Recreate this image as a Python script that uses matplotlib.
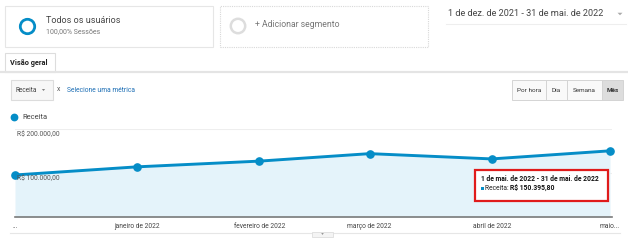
import numpy as np
import matplotlib
matplotlib.use("Agg")
import matplotlib.pyplot as plt
from matplotlib.patches import Rectangle, Polygon, Ellipse

plt.rcParams['font.family'] = ['Roboto', 'DejaVu Sans']

# ---- data ----
months = ["2021-12-01", "2022-01-01", "2022-02-01", "2022-03-01", "2022-04-01", "2022-05-01"]
receita = [95500, 114000, 127000, 144000, 132000, 150395.80]
tick_labels = ["...", "janeiro de 2022", "fevereiro de 2022", "março de 2022", "abril de 2022", "maio..."]
y_ticks = [100000, 200000]
y_tick_labels = ["R$ 100.000,00", "R$ 200.000,00"]
date_range = "1 de dez. de 2021 - 31 de mai. de 2022"
tooltip_title = "1 de mai. de 2022 - 31 de mai. de 2022"
tooltip_value = "R$ 150.395,80"

W, H = 628, 240
fig = plt.figure(figsize=(W / 100, H / 100), dpi=100)
fig.patch.set_facecolor("white")

def fx(x):
    return x / W

def fy(y):
    return 1 - y / H

BLUE = "#058dc7"
TXT = "#333333"
GREY = "#e0e0e0"

def rect(x0, y0, x1, y1, fc="white", ec=GREY, lw=0.8, ls="-", z=1):
    r = Rectangle((fx(x0), fy(y1)), fx(x1) - fx(x0), fy(y0) - fy(y1),
                  transform=fig.transFigure, facecolor=fc, edgecolor=ec, lw=lw, ls=ls, zorder=z)
    fig.add_artist(r)
    return r

def hline(y, x0, x1, color=GREY, lw=1.0):
    fig.add_artist(plt.Line2D([fx(x0), fx(x1)], [fy(y), fy(y)], transform=fig.transFigure,
                              color=color, lw=lw))

def txt(x, y, s, size=6, color=TXT, weight="normal", ha="left", va="center"):
    return fig.text(fx(x), fy(y), s, fontsize=size, color=color, fontweight=weight, ha=ha, va=va)

def ring(x, y, r, color, lw):
    e = Ellipse((fx(x), fy(y)), 2 * r / W, 2 * r / H, transform=fig.transFigure,
                facecolor="none", edgecolor=color, lw=lw)
    fig.add_artist(e)

def tri(x, y, s, color):
    p = Polygon([(fx(x - s), fy(y - s / 2)), (fx(x + s), fy(y - s / 2)), (fx(x), fy(y + s / 2))],
                closed=True, transform=fig.transFigure, facecolor=color, edgecolor="none", zorder=5)
    fig.add_artist(p)

# ---- header: segments ----
rect(5, 6, 213, 47, ec="#e6e6e6", lw=0.8)
ring(27.5, 26.5, 7.2, BLUE, 2.0)
txt(46, 20.5, "Todos os usuários", size=6.5, color="#444444")
txt(46, 32, "100,00% Sessões", size=5.0, color="#777777")

rect(220, 6, 428, 47, ec="#d8d8d8", lw=0.8, ls=(0, (1, 1)))
ring(238, 26, 7.2, "#dddddd", 1.8)
txt(255, 24.5, "+ Adicionar segmento", size=6.2, color="#777777")

txt(448, 14, date_range, size=6.6, color="#444444")
tri(620, 14, 2.5, "#aaaaaa")
hline(23.5, 446, 626, color="#eeeeee", lw=0.8)

# ---- tab ----
hline(72.5, 0, 628, color="#e4e4e4", lw=1.6)
rect(5, 53, 55, 72, ec="#dddddd", lw=0.8)
txt(10, 63, "Visão geral", size=5.3, color="#222222", weight="bold")

# ---- metric selector ----
rect(11, 80, 53, 100, fc="#f7f7f7", ec="#dcdcdc", lw=0.8)
txt(15, 90, "Receita", size=4.7, color="#444444")
tri(43.5, 90, 1.6, "#666666")
txt(56.5, 89.5, "x", size=4.9, color="#555555")
txt(67, 90, "Selecione uma métrica", size=4.9, color="#1e6fb5")

# ---- period buttons ----
btns = [("Por hora", 512, 546), ("Dia", 546, 567), ("Semana", 567, 602), ("Mês", 602, 623)]
for lab, a, b in btns:
    sel = lab == "Mês"
    rect(a, 80, b, 100, fc="#dddddd" if sel else "#f9f9f9", ec="#d4d4d4", lw=0.7)
    t = txt((a + b) / 2, 90, lab, size=4.6, color="#333333", ha="center",
            weight="bold" if sel else "normal")
    t.set_zorder(6)

# ---- legend ----
fig.add_artist(plt.Line2D([fx(14)], [fy(117)], marker="o", ms=4.6, color=BLUE, transform=fig.transFigure))
txt(22, 117, "Receita", size=5.4, color="#444444")

# ---- chart ----
ax = fig.add_axes([fx(15), fy(217), fx(612) - fx(15), fy(129) - fy(217)])
d0 = np.datetime64(months[0])
xs = np.array([(np.datetime64(m) - d0).astype(int) for m in months], dtype=float)
ax.set_xlim(0, 151.5)
ax.set_ylim(0, 200000)
for s in ax.spines.values():
    s.set_visible(False)
ax.set_yticks([])
for v in y_ticks:
    ax.axhline(v, color="#eeeeee", lw=0.8, zorder=0)
ax.fill_between(xs, receita, 0, color="#e4f3fa", lw=0, zorder=1)
ax.plot(xs, receita, color=BLUE, lw=2.1, marker="o", ms=5.2, clip_on=False, zorder=3)
ax.axhline(0, color="#7a7a7a", lw=1.2, zorder=4, clip_on=False)
ax.set_xticks(xs)
ax.set_xticklabels(tick_labels)
ax.tick_params(axis="x", length=0, pad=4.5, labelsize=4.8, labelcolor="#444444")
for v, lab in zip(y_ticks, y_tick_labels):
    ax.annotate(lab, xy=(0, v), xycoords=("axes fraction", "data"), xytext=(1.5, -1.2),
                textcoords="offset points", fontsize=4.9, color="#555555", ha="left", va="top", zorder=5)

# ---- bottom ----
hline(233, 10, 620, color="#e6e6e6", lw=0.8)
rect(312, 231.5, 333, 237, fc="#f4f4f4", ec="#dddddd", lw=0.6, z=3)
tri(322.5, 234, 1.3, "#666666")

# ---- tooltip ----
rect(474.5, 169.5, 607.5, 201, fc="white", ec="#e01b1b", lw=1.6, z=10)
t1 = txt(481, 179, tooltip_title, size=4.9, color="#111111", weight="bold")
t1.set_zorder(11)
sq = Rectangle((fx(481), fy(189.5)), 2.5 / W, 2.5 / H, transform=fig.transFigure,
               facecolor=BLUE, edgecolor="none", zorder=11)
fig.add_artist(sq)
t2 = txt(485, 188, "Receita: ", size=4.9, color="#222222")
t2.set_zorder(11)
fig.canvas.draw()
bb = t2.get_window_extent(fig.canvas.get_renderer())
t3 = fig.text(bb.x1 / fig.bbox.width, fy(188), tooltip_value, fontsize=4.9, color="#111111",
              fontweight="bold", ha="left", va="center", zorder=11)

fig.savefig("out.png", dpi=100, facecolor="white")
